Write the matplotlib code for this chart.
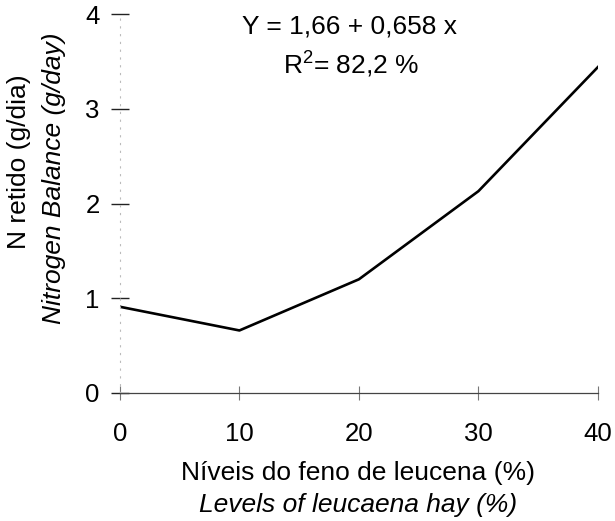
import matplotlib
matplotlib.use("Agg")
import matplotlib.pyplot as plt

plt.rcParams["font.family"] = ["Liberation Sans", "DejaVu Sans"]
plt.rcParams["mathtext.fontset"] = "custom"
plt.rcParams["mathtext.rm"] = "Liberation Sans"
plt.rcParams["mathtext.it"] = "Liberation Sans:italic"

# Leucaena hay level (%) and retained nitrogen (g/day)
levels = [0, 10, 20, 30, 40]
n_retained = [0.91, 0.66, 1.20, 2.13, 3.44]
x_ticks = [0, 10, 20, 30, 40]
y_ticks = [0, 1, 2, 3, 4]
equation = "Y = 1,66 + 0,658 x"
r_squared = "R$^2$= 82,2 %"

fig = plt.figure(figsize=(6.15, 5.21), dpi=100)
ax = fig.add_axes([0.195, 0.2457, 0.7772, 0.7274])

ax.plot(levels, n_retained, color="black", lw=1.9, solid_joinstyle="round")

ax.set_xlim(0, 40)
ax.set_ylim(0, 4)
ax.set_xticks(x_ticks)
ax.set_yticks(y_ticks)

for side in ("top", "right"):
    ax.spines[side].set_visible(False)
ax.spines["left"].set_color("#bbbbbb")
ax.spines["left"].set_linewidth(0.8)
ax.spines["left"].set_linestyle((0, (1, 6)))
ax.spines["bottom"].set_color("#444444")
ax.spines["bottom"].set_linewidth(0.9)

ax.tick_params(axis="y", direction="inout", length=13, width=1.0,
               color="#222222", pad=8, labelsize=18.5)
ax.tick_params(axis="x", direction="inout", length=10, width=0.8,
               color="#777777", pad=16, labelsize=18.5)

ax.text(0.481, 0.966, equation, transform=ax.transAxes,
        ha="center", va="center", fontsize=19)
ax.text(0.483, 0.866, r_squared, transform=ax.transAxes,
        ha="center", va="center", fontsize=19)

fig.text(19 / 615, 1 - 162 / 521, "N retido (g/dia)", rotation=90,
         ha="center", va="center", fontsize=19)
fig.text(54 / 615, 1 - 178 / 521, "Nitrogen Balance (g/day)", rotation=90,
         ha="center", va="center", fontsize=19, style="italic")

fig.text(358 / 615, 1 - 473 / 521, "Níveis do feno de leucena (%)",
         ha="center", va="center", fontsize=19)
fig.text(358 / 615, 1 - 505 / 521, "Levels of leucaena hay (%)",
         ha="center", va="center", fontsize=19, style="italic")

fig.savefig("out.png", dpi=100, facecolor="white")
